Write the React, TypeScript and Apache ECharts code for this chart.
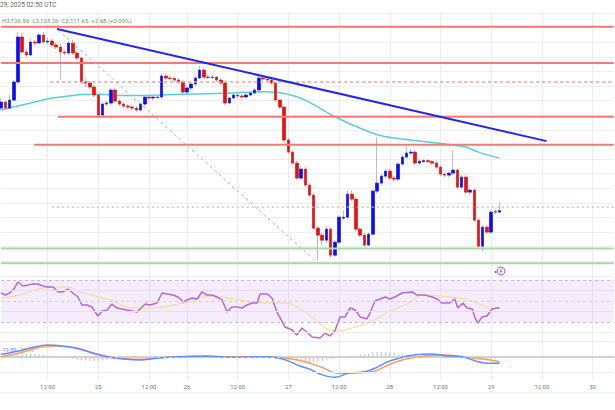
import React, { useEffect, useRef } from "react";
import * as echarts from "echarts";

// ---------- DATA ----------
const missingHours = ["2025-01-25 17:00", "2025-01-25 18:00", "2025-01-25 19:00"];
const firstHour = "2025-01-24 01:00";
const lastHour = "2025-01-30 05:00";

const categories: string[] = (() => {
  const out: string[] = [];
  for (let d = 24; d <= 30; d++) {
    for (let h = 0; h < 24; h++) {
      const s = `2025-01-${String(d)} ${String(h).padStart(2, "0")}:00`;
      if (s < firstHour || s > lastHour) continue;
      if (missingHours.includes(s)) continue;
      out.push(s);
    }
  }
  return out;
})();

// hourly candles: [open, close, low, high]
const candles: number[][] = [
  [3287.2, 3297.5, 3283.8, 3304.4], [3297.5, 3287.2, 3283.8, 3299.2], [3287.2, 3300.9, 3285.5, 3309.5],
  [3300.9, 3331.8, 3299.2, 3335.2], [3331.8, 3408.9, 3328.4, 3417.5], [3408.9, 3383.2, 3379.8, 3415.7],
  [3383.2, 3378.0, 3374.6, 3388.3], [3378.0, 3400.3, 3376.3, 3407.2], [3400.3, 3398.6, 3393.5, 3403.8],
  [3398.6, 3412.3, 3396.9, 3415.7], [3412.3, 3400.3, 3396.9, 3417.5], [3400.3, 3402.0, 3396.9, 3407.2],
  [3402.0, 3395.2, 3391.8, 3405.5], [3395.2, 3391.8, 3388.3, 3398.6], [3391.8, 3383.2, 3335.2, 3396.9],
  [3383.2, 3381.5, 3378.0, 3386.6], [3381.5, 3398.6, 3378.0, 3402.0], [3398.6, 3381.5, 3378.0, 3403.8],
  [3381.5, 3372.9, 3369.5, 3384.9], [3372.9, 3331.8, 3328.4, 3374.6], [3331.8, 3330.1, 3323.2, 3336.9],
  [3330.1, 3323.2, 3319.8, 3333.5], [3323.2, 3309.5, 3306.1, 3326.6], [3309.5, 3275.2, 3271.8, 3312.9],
  [3275.2, 3294.1, 3271.8, 3297.5], [3294.1, 3295.8, 3290.6, 3299.2], [3295.8, 3318.1, 3292.4, 3321.5],
  [3318.1, 3299.2, 3295.8, 3321.5], [3299.2, 3294.1, 3290.6, 3302.6], [3294.1, 3290.6, 3287.2, 3297.5],
  [3290.6, 3288.9, 3285.5, 3294.1], [3288.9, 3287.2, 3283.8, 3292.4], [3287.2, 3283.8, 3280.4, 3290.6],
  [3283.8, 3294.1, 3282.1, 3297.5], [3294.1, 3306.1, 3290.6, 3309.5], [3306.1, 3304.4, 3300.9, 3309.5],
  [3304.4, 3306.1, 3300.9, 3309.5], [3305.2, 3306.1, 3302.6, 3309.5], [3306.1, 3342.1, 3302.6, 3345.5],
  [3342.1, 3338.6, 3335.2, 3345.5], [3338.6, 3337.8, 3335.2, 3342.1], [3337.8, 3335.2, 3331.8, 3340.3],
  [3335.2, 3331.8, 3328.4, 3338.6], [3331.8, 3314.6, 3311.2, 3335.2], [3314.6, 3321.5, 3311.2, 3324.9],
  [3321.5, 3328.4, 3318.1, 3331.8], [3328.4, 3338.6, 3324.9, 3342.1], [3338.6, 3352.3, 3336.9, 3359.2],
  [3352.3, 3340.3, 3336.9, 3355.8], [3340.3, 3339.5, 3336.9, 3343.8], [3339.5, 3340.3, 3336.9, 3343.8],
  [3340.3, 3335.2, 3331.8, 3342.1], [3335.2, 3330.1, 3326.6, 3338.6], [3330.1, 3295.8, 3292.4, 3331.8],
  [3295.8, 3304.4, 3294.1, 3306.1], [3304.4, 3309.5, 3302.6, 3312.9], [3309.5, 3307.8, 3304.4, 3312.9],
  [3307.8, 3306.1, 3302.6, 3311.2], [3306.1, 3309.5, 3304.4, 3312.9], [3309.5, 3312.9, 3307.8, 3316.4],
  [3312.9, 3318.1, 3311.2, 3321.5], [3318.1, 3338.6, 3316.4, 3342.1], [3338.6, 3336.9, 3335.2, 3342.1],
  [3336.9, 3335.2, 3333.5, 3340.3], [3335.2, 3330.1, 3326.6, 3338.6], [3330.1, 3300.9, 3297.5, 3331.8],
  [3300.9, 3288.9, 3285.5, 3302.6], [3288.9, 3232.4, 3229.0, 3290.6], [3232.4, 3211.8, 3208.4, 3235.8],
  [3211.8, 3193.0, 3189.6, 3215.2], [3193.0, 3167.3, 3163.8, 3196.4], [3167.3, 3182.7, 3163.8, 3186.1],
  [3182.7, 3155.3, 3151.8, 3186.1], [3155.3, 3138.1, 3134.7, 3158.7], [3138.1, 3081.6, 3078.2, 3141.6],
  [3081.6, 3069.6, 3026.7, 3085.0], [3069.6, 3061.0, 3052.5, 3073.0], [3061.0, 3079.9, 3055.9, 3085.0],
  [3079.9, 3035.3, 3030.2, 3083.3], [3035.3, 3057.6, 3031.9, 3061.0], [3057.6, 3100.4, 3054.2, 3103.9],
  [3098.7, 3100.4, 3095.3, 3112.4], [3100.4, 3139.8, 3097.0, 3146.7], [3139.8, 3131.3, 3127.8, 3146.7],
  [3131.3, 3079.9, 3076.5, 3134.7], [3079.9, 3069.6, 3066.2, 3083.3], [3069.6, 3052.5, 3049.0, 3073.0],
  [3052.5, 3071.3, 3050.7, 3074.8], [3071.3, 3145.0, 3067.9, 3148.4], [3145.0, 3158.7, 3141.6, 3237.5],
  [3158.7, 3170.7, 3155.3, 3174.1], [3170.7, 3179.3, 3167.3, 3182.7], [3179.3, 3167.3, 3163.8, 3182.7],
  [3167.3, 3165.5, 3160.4, 3170.7], [3165.5, 3191.3, 3162.1, 3194.7], [3191.3, 3203.3, 3187.8, 3206.7],
  [3203.3, 3210.1, 3199.8, 3220.4], [3210.1, 3211.8, 3206.7, 3217.0], [3211.8, 3193.0, 3189.6, 3215.2],
  [3193.0, 3196.4, 3189.6, 3199.8], [3195.5, 3197.3, 3193.0, 3199.8], [3197.3, 3195.5, 3193.0, 3199.8],
  [3195.5, 3193.0, 3189.6, 3198.1], [3193.0, 3186.1, 3182.7, 3196.4], [3186.1, 3174.1, 3170.7, 3189.6],
  [3174.1, 3172.4, 3169.0, 3177.5], [3172.4, 3175.8, 3169.0, 3179.3], [3175.8, 3181.0, 3172.4, 3215.2],
  [3181.0, 3151.8, 3148.4, 3184.4], [3151.8, 3169.0, 3148.4, 3172.4], [3169.0, 3143.3, 3139.8, 3172.4],
  [3143.3, 3146.7, 3138.1, 3150.1], [3146.7, 3095.3, 3091.9, 3150.1], [3095.3, 3050.7, 3047.3, 3098.7],
  [3050.7, 3083.3, 3042.2, 3086.7], [3083.3, 3074.8, 3071.3, 3086.7], [3074.8, 3109.0, 3071.3, 3112.4],
  [3110.2, 3108.97, 3105.6, 3114.1], [3108.97, 3111.65, 3108.26, 3126.56],
];

// moving average [barIndex, price]
const maPoints: number[][] = [
  [0, 3283.8], [2, 3287.2], [5, 3292.4], [8, 3297.5], [12, 3304.4], [16, 3307.8], [19, 3310.3],
  [23, 3310.7], [30, 3308.6], [37, 3309.5], [45, 3311.2], [53, 3312.4], [62, 3315.1], [65, 3314.1],
  [68, 3310.7], [72, 3300.9], [79, 3272.3], [87, 3246.6], [91, 3238.0], [94, 3235.3], [99, 3230.7],
  [106, 3225.0], [110, 3220.4], [113, 3211.8], [118, 3201.5],
];

// drawn levels
const resistanceLevels = [3426.5, 3364.3, 3272.3, 3224.3];
const resistanceStarts = [0, 0, 13.5, 7.8];
const dashedLevel = 3331.8;
const dashedStart = 11.6;
const dottedLevel = 3117.5;
const dottedStart = 12.0;
const supportLevels = [3046.8, 3021.6];
const trendLine: number[][] = [[13.23, 3422.6], [129.1, 3230.6]];
const diagonalLine: number[][] = [[13.5, 3420.9], [75, 3021.6]];

// RSI [barIndex, value]
const rsiPoints: number[][] = [
  [0, 57.6], [1, 55.7], [2, 57.6], [3, 61.4], [4, 68.1], [5.2, 64.3], [6.4, 65.2], [7.5, 66.2], [8.7, 66.2],
  [9.9, 64.3], [11.1, 63.3], [12.3, 63.3], [13.5, 58.6], [14.6, 58.6], [15.8, 61.4], [17, 57.6], [18.2, 53.8],
  [19.1, 46.2], [20.3, 46.2], [21.5, 44.3], [22.9, 35.7], [23.9, 40.5], [25.1, 41.4], [26.2, 47.1], [27.4, 43.3],
  [29.8, 41.4], [32.2, 39.5], [34.1, 47.1], [35.2, 46.2], [36.9, 48.1], [38.1, 57.6], [39.3, 56.7], [40.7, 55.7],
  [41.9, 53.8], [43.1, 49.0], [44, 51.0], [45.2, 52.9], [46.4, 51.9], [47.5, 58.6], [48.7, 55.7], [49.9, 55.7],
  [51.1, 53.8], [52.3, 51.0], [53.5, 39.5], [54.6, 44.3], [55.8, 44.3], [57, 43.3], [58.2, 46.2], [59.4, 48.1],
  [60.6, 48.1], [61.3, 56.7], [63, 56.7], [64.1, 52.9], [65.3, 39.5], [67.2, 25.2], [68.9, 22.4], [70, 17.6],
  [71.2, 24.3], [72.4, 20.5], [73.6, 15.7], [75.5, 14.8], [76.7, 19.5], [77.8, 16.7], [79, 21.4], [80.2, 34.8],
  [81.4, 34.8], [82.6, 43.3], [83.8, 41.4], [85, 34.8], [86.6, 32.9], [87.3, 38.6], [88.5, 50.0], [90.9, 53.8],
  [92, 51.9], [93.2, 53.8], [94.9, 57.6], [97.3, 58.6], [98.4, 55.7], [100.3, 55.7], [102, 53.8], [103.2, 51.9],
  [104.3, 48.1], [106.2, 48.1], [107.4, 51.9], [108.1, 43.3], [109.3, 48.1], [110.3, 43.3], [111.5, 42.4],
  [112.2, 33.8], [112.9, 29.0], [113.8, 34.8], [115, 35.7], [116.2, 42.4], [117.4, 43.3], [118, 43.3],
];
const rsiMaPoints: number[][] = [
  [0, 52.9], [4.5, 55.7], [9.9, 62.4], [15.6, 63.3], [18.7, 58.6], [25.8, 51.0], [31.2, 43.3], [35.2, 43.3],
  [43.1, 48.1], [50.2, 54.8], [54.9, 51.9], [62.9, 48.1], [66.7, 48.1], [73.1, 36.7], [76.7, 24.3], [79.7, 21.4],
  [83.8, 25.2], [86.8, 29.0], [92.5, 41.4], [95.6, 46.2], [100.3, 55.7], [105.8, 53.8], [109.8, 51.9],
  [113.8, 46.2], [116.2, 42.4], [118, 43.3],
];

// MACD [barIndex, value]
const macdPoints: number[][] = [
  [0, 8.6], [4.5, 20], [7.5, 30.8], [10.9, 38.2], [14, 35.9], [18, 27.7], [21.8, 11.8], [25.1, 1.0], [29.8, -7.3],
  [32.9, -9.5], [36.9, -4.1], [41.6, 1.0], [48.7, 3.2], [54.9, -1.0], [62.9, 1.0], [66, -4.1], [68.4, -14.9],
  [70.7, -28.6], [73.1, -39.1], [75, -51.8], [79, -64.6], [82.1, -51.8], [86.1, -46.7], [88.5, -35.9],
  [91.6, -14.9], [95.6, 1.0], [98, 7.3], [102, 9.5], [105.1, 4.1], [109.1, 1.0], [112.9, -14.9], [115.2, -20.0],
  [118, -19.89],
];
const signalPoints: number[][] = [
  [0, 1.0], [4.5, 13.7], [9.2, 30.8], [12.3, 35.0], [17, 29.6], [22.7, 9.5], [27.4, -4.1], [32.9, -7.3],
  [39.3, -1.0], [47.1, 1.0], [54.9, 1.0], [62.9, 1.0], [67.7, -4.1], [71.9, -14.9], [75.9, -32.8], [79.7, -51.8],
  [87.8, -46.7], [91.6, -25.4], [95.6, -7.3], [100.3, 3.2], [105.1, 6.4], [109.8, -1.0], [114.5, -7.3],
  [118, -15.12],
];
const histBars: number[][] = [
  [1, 3], [2, 5], [3, 7], [4, 9], [5, 11], [6, 12], [7, 12], [8, 11], [9, 9], [10, 7], [11, 5], [12, 3], [13, 2],
  [15, -2], [16, -4], [17, -6], [18, -8], [19, -10], [20, -11], [21, -12], [22, -13], [23, -12], [24, -10],
  [25, -8], [26, -6], [27, -4], [28, -3], [29, -2], [30, -1],
  [38, 2], [39, 3], [40, 4], [41, 4], [42, 3], [43, 2], [44, 1],
  [65, -2], [66, -4], [67, -6], [68, -8], [69, -10], [70, -12], [71, -14], [72, -16], [73, -18], [74, -17],
  [75, -15], [76, -12], [77, -9], [78, -6], [79, -3], [80, -1],
  [83, 3], [84, 5], [85, 7], [86, 9], [87, 11], [88, 14], [89, 16], [90, 17], [91, 17], [92, 16], [93, 14],
  [94, 11], [95, 9], [96, 7], [97, 5], [98, 3], [99, 2], [100, 1],
  [106, -1], [107, -2], [108, -3], [109, -4], [110, -6], [111, -7], [112, -8], [113, -9], [114, -10], [115, -9],
  [116, -7], [117, -6], [118, -5],
];

const headerDate = "29, 2025 02:50 UTC";
const headerOhlc = "H3,126.56  L3,108.26  C3,111.65  +2.68 (+0.09%)";
const macdLegend = "-19.89";
const signalLegend = "-15.12";

// ---------- CHART ----------
const FONT = "Roboto, 'DejaVu Sans', sans-serif";
const isMajor = (v: string) => v.endsWith(" 00:00") || v.endsWith(" 12:00");
const gridBox = { left: 1.11, width: 612.6 };
const vSplit = { show: true, interval: (_i: number, v: string) => isMajor(v), lineStyle: { color: "#ececec", width: 1 } };

function catAxis(gridIndex: number, showLabels: boolean) {
  return {
    type: "category", gridIndex, data: categories, boundaryGap: false,
    axisTick: { show: false },
    axisLine: { show: showLabels, lineStyle: { color: "#d2d2d2", width: 2 } },
    axisLabel: {
      show: showLabels, interval: (_i: number, v: string) => isMajor(v), margin: 4,
      fontSize: 6, color: "#777", fontFamily: FONT,
      formatter: (v: string) => (v.endsWith("00:00") ? String(Number(v.slice(8, 10))) : "12:00"),
    },
    splitLine: vSplit,
  };
}
function valAxis(gridIndex: number) {
  return { type: "value", gridIndex, min: 0, max: categories.length - 1, show: false };
}
function seg(data: number[][], color: string, width: number, type: any, xAxisIndex = 1, yAxisIndex = 0) {
  return {
    type: "line", xAxisIndex, yAxisIndex, data, symbol: "none", silent: true,
    lineStyle: { color, width, type }, z: 4,
  };
}

const levelSeries: any[] = [];
resistanceLevels.forEach((p, k) => {
  levelSeries.push(seg([[resistanceStarts[k], p], [categories.length - 1, p]], "#f47878", 2, "solid"));
});
levelSeries.push(seg([[dashedStart, dashedLevel], [categories.length - 1, dashedLevel]], "#f79a9a", 1.5, [3, 3]));
levelSeries.push(seg([[dottedStart, dottedLevel], [categories.length - 1, dottedLevel]], "#f7a8a8", 1.2, [2, 3]));
supportLevels.forEach((p) => {
  levelSeries.push(seg([[0, p], [categories.length - 1, p]], "#a6d9a6", 2, "solid"));
});

const bodies = candles.map(([o, c]) => [o, c, Math.min(o, c), Math.max(o, c)]);

const option: any = {
  animation: false,
  backgroundColor: "#ffffff",
  grid: [
    { ...gridBox, top: 13, height: 262.8 },
    { ...gridBox, top: 269.5, height: 73.5 },
    { ...gridBox, top: 341.26, height: 37.74 },
  ],
  xAxis: [catAxis(0, false), valAxis(0), catAxis(1, false), valAxis(1), catAxis(2, true), valAxis(2)],
  yAxis: [
    {
      type: "value", gridIndex: 0, min: 3000, max: 3450, interval: 25,
      axisLabel: { show: false }, axisLine: { show: false }, axisTick: { show: false },
      splitLine: { show: true, lineStyle: { color: "#efefef", width: 1 } },
    },
    { type: "value", gridIndex: 1, min: 10, max: 80, show: false, splitLine: { show: false } },
    { type: "value", gridIndex: 2, min: -70, max: 50, show: false, splitLine: { show: false } },
  ],
  series: [
    {
      type: "line", xAxisIndex: 1, yAxisIndex: 0, data: maPoints, smooth: 0.4, symbol: "none", silent: true,
      lineStyle: { color: "#5ccbe0", width: 1.5 }, z: 2,
    },
    {
      type: "candlestick", xAxisIndex: 0, yAxisIndex: 0, data: candles, barWidth: 3, silent: true, z: 3,
      itemStyle: { color: "#bdbdbd", color0: "#bdbdbd", borderColor: "#bdbdbd", borderColor0: "#bdbdbd", borderWidth: 1 },
    },
    {
      type: "candlestick", xAxisIndex: 0, yAxisIndex: 0, data: bodies, barWidth: 3, silent: true, z: 3,
      itemStyle: { color: "#0b0bff", color0: "#f20c0c", borderColor: "#0b0bff", borderColor0: "#f20c0c", borderWidth: 0.5 },
    },
    ...levelSeries,
    seg(trendLine, "#2525e2", 2, "solid"),
    seg(diagonalLine, "#b5b5b5", 1, [3, 3]),
    // RSI
    {
      type: "line", xAxisIndex: 3, yAxisIndex: 1, data: rsiMaPoints, smooth: 0.4, symbol: "none", silent: true,
      lineStyle: { color: "#f6d888", width: 1 }, z: 3,
      markArea: {
        silent: true, itemStyle: { color: "rgba(160, 90, 235, 0.11)" },
        data: [[{ yAxis: 30 }, { yAxis: 70 }]],
      },
      markLine: {
        silent: true, symbol: "none", label: { show: false },
        data: [
          { yAxis: 70, lineStyle: { color: "#c4b4d4", type: [3, 3], width: 1 } },
          { yAxis: 50, lineStyle: { color: "#d6cbe0", type: [3, 3], width: 1 } },
          { yAxis: 30, lineStyle: { color: "#c4b4d4", type: [3, 3], width: 1 } },
          { yAxis: 20, lineStyle: { color: "#ececec", type: "solid", width: 1 } },
          { yAxis: 40, lineStyle: { color: "#e6def0", type: "solid", width: 1 } },
          { yAxis: 60, lineStyle: { color: "#e6def0", type: "solid", width: 1 } },
        ],
      },
    },
    {
      type: "line", xAxisIndex: 3, yAxisIndex: 1, data: rsiPoints, symbol: "none", silent: true,
      lineStyle: { color: "#b767d6", width: 1.5 }, z: 4,
    },
    // MACD
    {
      type: "bar", xAxisIndex: 4, yAxisIndex: 2, data: histBars, barWidth: 1, silent: true,
      itemStyle: { color: (p: any) => (p.value[1] >= 0 ? "#9ad6cc" : "#f5a9a7") },
      markLine: {
        silent: true, symbol: "none", label: { show: false },
        data: [
          { yAxis: 0, lineStyle: { color: "#cfcfcf", type: [3, 3], width: 1 } },
          { yAxis: 50, lineStyle: { color: "#ececec", type: "solid", width: 1 } },
          { yAxis: -50, lineStyle: { color: "#ececec", type: "solid", width: 1 } },
        ],
      },
    },
    {
      type: "line", xAxisIndex: 5, yAxisIndex: 2, data: signalPoints, smooth: 0.4, symbol: "none", silent: true,
      lineStyle: { color: "#ff9d5e", width: 1.5 }, z: 3,
    },
    {
      type: "line", xAxisIndex: 5, yAxisIndex: 2, data: macdPoints, smooth: 0.4, symbol: "none", silent: true,
      lineStyle: { color: "#5f8dfd", width: 1.5 }, z: 4,
    },
  ],
  graphic: [
    { type: "text", x: 0, y: 5, style: { text: headerDate, font: `6.5px ${FONT}`, fill: "#666", textVerticalAlign: "middle" } },
    { type: "text", x: 2, y: 20, style: { text: headerOhlc, font: `6px ${FONT}`, fill: "#5f9b72", textVerticalAlign: "middle" } },
    { type: "text", x: 1, y: 349.5, style: { text: macdLegend, font: `5.5px ${FONT}`, fill: "#5f8dfd", textVerticalAlign: "middle" } },
    { type: "text", x: 19, y: 349.5, style: { text: signalLegend, font: `5.5px ${FONT}`, fill: "#ff9d5e", textVerticalAlign: "middle" } },
    { type: "line", shape: { x1: 0, y1: 393, x2: 615, y2: 393 }, style: { stroke: "#ededed", lineWidth: 1 } },
    { type: "circle", shape: { cx: 495.5, cy: 272, r: 1 }, style: { fill: "#4b6cf5" } },
    { type: "circle", shape: { cx: 501, cy: 271, r: 4 }, style: { fill: "#ffffff", stroke: "#b24fd4", lineWidth: 1 } },
    { type: "polyline", shape: { points: [[502.2, 268.3], [499.8, 271.4], [502, 271], [499.8, 273.8]] }, style: { stroke: "#b24fd4", lineWidth: 0.8, fill: "none" } },
  ],
};

export default function App() {
  const ref = useRef<HTMLDivElement>(null);
  useEffect(() => {
    if (!ref.current) return;
    const chart = echarts.init(ref.current, undefined, { renderer: "svg" });
    chart.setOption(option);
    return () => chart.dispose();
  }, []);
  return (
    <div
      ref={ref}
      style={{ position: "fixed", left: 0, top: 0, width: 615, height: 410, background: "#fff" }}
    />
  );
}
